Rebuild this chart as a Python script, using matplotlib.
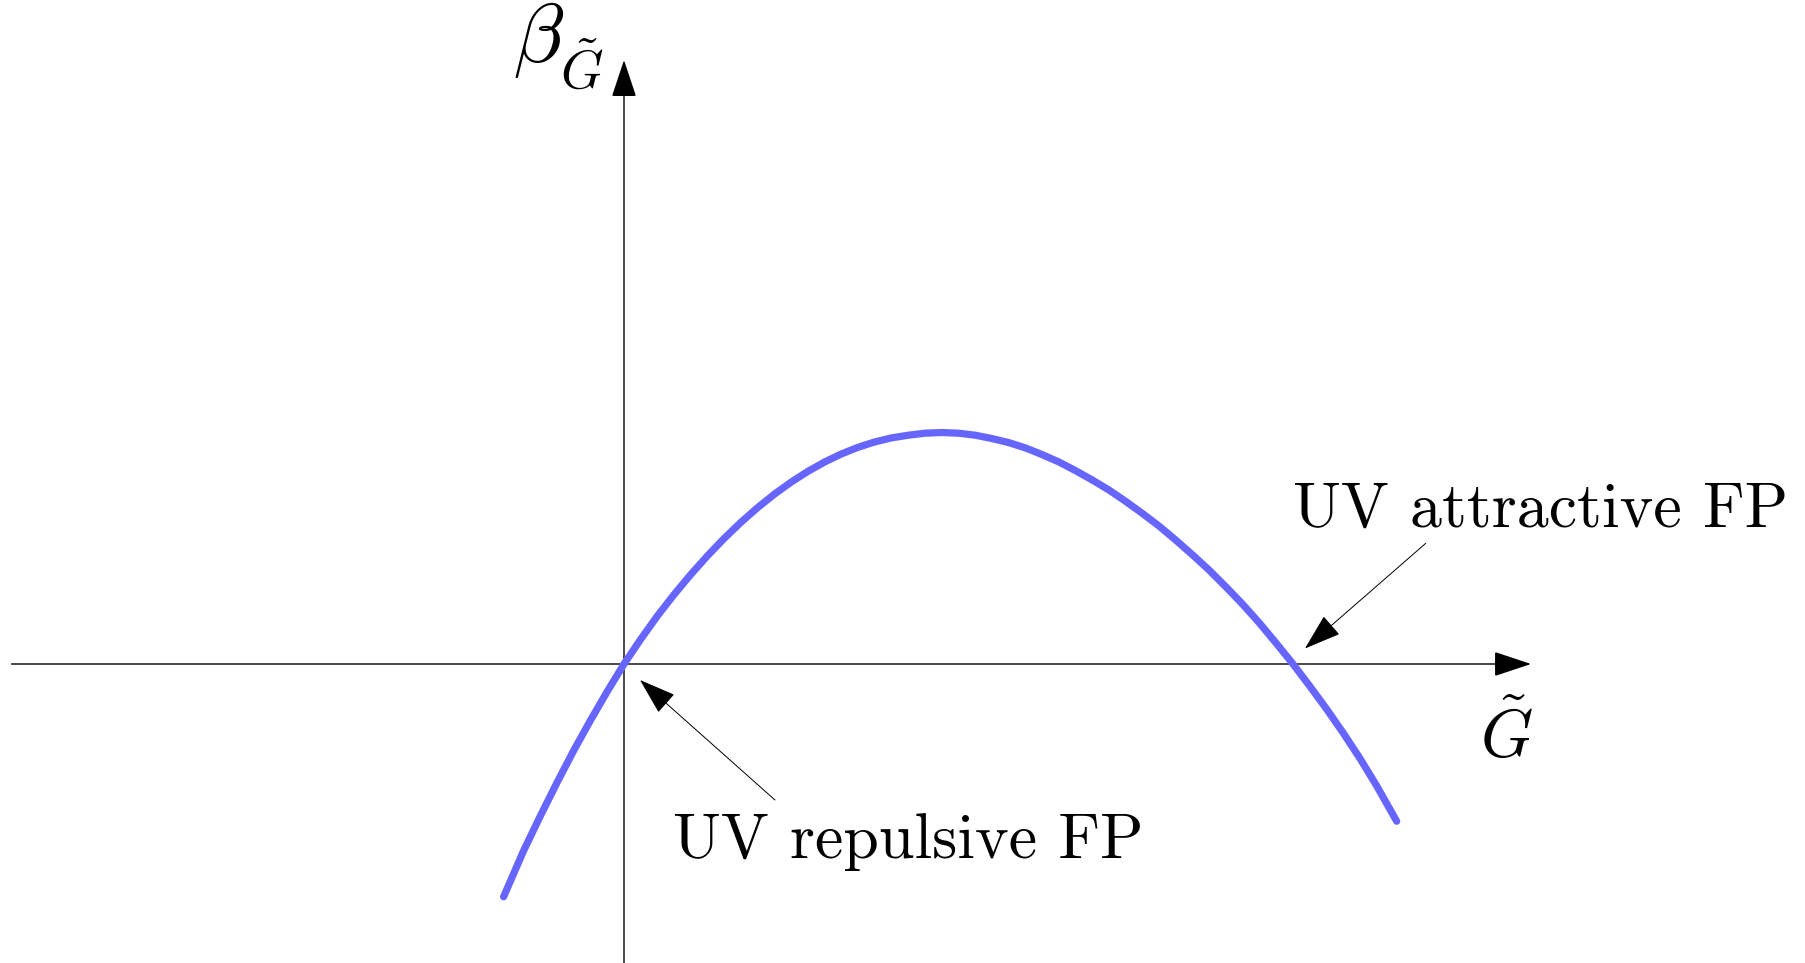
import matplotlib
matplotlib.use("Agg")
import matplotlib.pyplot as plt
from matplotlib.patches import FancyArrowPatch

plt.rcParams["mathtext.fontset"] = "cm"

# Beta function of the dimensionless Newton coupling (values in units of the non-trivial fixed point)
g_tilde = [-0.180, -0.150, -0.125, -0.100, -0.075, -0.050, -0.025, 0.000,
           0.025, 0.050, 0.075, 0.100, 0.125, 0.150, 0.175, 0.200, 0.225, 0.250,
           0.275, 0.300, 0.325, 0.350, 0.375, 0.400, 0.425, 0.450, 0.475, 0.500,
           0.525, 0.550, 0.575, 0.600, 0.625, 0.650, 0.675, 0.700, 0.725, 0.750,
           0.775, 0.800, 0.825, 0.850, 0.875, 0.900, 0.925, 0.950, 0.975, 1.000,
           1.025, 1.050, 1.075, 1.100, 1.125, 1.155]
beta_g = [-0.348, -0.279, -0.227, -0.177, -0.129, -0.084, -0.041, 0.000,
          0.037, 0.072, 0.104, 0.134, 0.162, 0.188, 0.212, 0.234, 0.254, 0.272,
          0.288, 0.302, 0.314, 0.324, 0.332, 0.338, 0.342, 0.345, 0.346, 0.345,
          0.342, 0.337, 0.331, 0.323, 0.313, 0.302, 0.289, 0.275, 0.260, 0.243,
          0.225, 0.206, 0.185, 0.163, 0.140, 0.115, 0.089, 0.061, 0.031, 0.000,
          -0.033, -0.067, -0.103, -0.141, -0.182, -0.235]

label_repulsive = "UV repulsive FP"
label_attractive = "UV attractive FP"
x_label = r"$\tilde{G}$"
y_label_main = r"$\beta$"
y_label_sub = r"$\tilde{G}$"

fig = plt.figure(figsize=(18.06, 9.63), dpi=100)
ax = fig.add_axes([0, 0, 1, 1])
ax.set_xlim(-624 / 669, (1806 - 624) / 669)
ax.set_ylim((664 - 963) / 669, 664 / 669)
ax.axis("off")

head = "-|>,head_length=23.8,head_width=7.9"


def arrow(start, end, lw):
    ax.add_patch(FancyArrowPatch(start, end, arrowstyle=head, mutation_scale=1,
                                 lw=lw, color="black", shrinkA=0, shrinkB=0,
                                 joinstyle="miter"))


# coordinate axes
arrow((-0.9155, 0.0), (1.3558, 0.0), 1.0)
arrow((0.0, -0.46), (0.0, 0.9028), 1.0)

# the curve
ax.plot(g_tilde, beta_g, color="#6666ff", lw=5.2, solid_capstyle="round",
        solid_joinstyle="round", zorder=3)

# fixed point annotations
arrow((0.2257, -0.2033), (0.0239, -0.0239), 0.7)
arrow((1.1984, 0.1804), (1.0179, 0.0232), 0.7)

ax.text(0.0732, -0.2904, label_repulsive, family="cmr10", fontsize=46,
        ha="left", va="baseline")
ax.text(0.9995, 0.2052, label_attractive, family="cmr10", fontsize=46,
        ha="left", va="baseline")

ax.text(1.3184, -0.1405, x_label, fontsize=48, ha="center", va="baseline")
ax.text(-0.1660, 0.900, y_label_main, fontsize=60, ha="left", va="baseline")
ax.text(-0.0950, 0.860, y_label_sub, fontsize=39, ha="left", va="baseline")

fig.savefig("out.png", dpi=100, facecolor="white")
